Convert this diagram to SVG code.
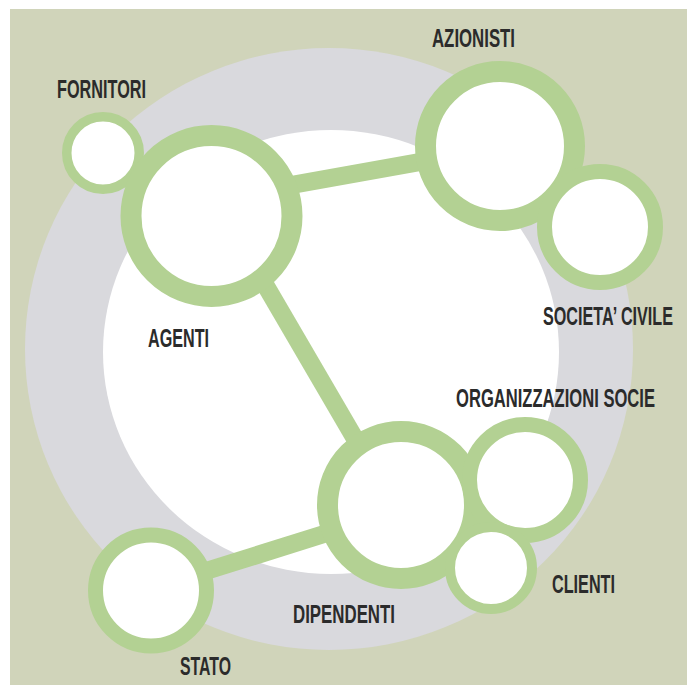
<svg xmlns="http://www.w3.org/2000/svg" width="687" height="685" viewBox="0 0 687 685">
<style>
.node{fill:#ffffff;stroke:#b3d193}
.link{stroke:#b3d193;stroke-width:18;fill:none}
.lbl{font-family:"Liberation Sans",Arial,sans-serif;font-weight:bold;font-size:25px;fill:#2b2b2b}
</style>
<rect x="0" y="0" width="687" height="685" fill="#ffffff"/>
<rect x="10" y="9" width="677" height="676" fill="#d0d4ba"/>
<ellipse cx="329" cy="349" rx="304" ry="301" fill="#d9d9dd"/>
<ellipse cx="331" cy="352" rx="228" ry="222" fill="#ffffff"/>
<g id="connectors">
<line class="link" x1="260" y1="190.6" x2="450" y2="156.6"/>
<line class="link" x1="256" y1="269" x2="361" y2="449"/>
<line class="link" x1="190" y1="576" x2="340" y2="529"/>
</g>
<g id="fornitori"><circle class="node" cx="103" cy="153" r="36.25" stroke-width="9.5"/><text class="lbl" x="57" y="98" textLength="89" lengthAdjust="spacingAndGlyphs">FORNITORI</text></g>
<g id="agenti"><circle class="node" cx="211.5" cy="216" r="80.5" stroke-width="21"/><text class="lbl" x="148" y="347" textLength="61" lengthAdjust="spacingAndGlyphs">AGENTI</text></g>
<g id="azionisti"><circle class="node" cx="500" cy="146" r="74.5" stroke-width="21"/><text class="lbl" x="432" y="47" textLength="83" lengthAdjust="spacingAndGlyphs">AZIONISTI</text></g>
<g id="societa-civile"><circle class="node" cx="600" cy="227" r="55.5" stroke-width="15"/><text class="lbl" x="543" y="325" textLength="130" lengthAdjust="spacingAndGlyphs">SOCIETA’ CIVILE</text></g>
<g id="dipendenti"><circle class="node" cx="401" cy="505" r="73.5" stroke-width="21"/><text class="lbl" x="293" y="623" textLength="102" lengthAdjust="spacingAndGlyphs">DIPENDENTI</text></g>
<g id="organizzazioni-socie"><circle class="node" cx="525" cy="480" r="55.5" stroke-width="15"/><text class="lbl" x="456" y="407" textLength="199" lengthAdjust="spacingAndGlyphs">ORGANIZZAZIONI SOCIE</text></g>
<g id="clienti"><circle class="node" cx="491" cy="568" r="41" stroke-width="10"/><text class="lbl" x="552" y="593" textLength="63" lengthAdjust="spacingAndGlyphs">CLIENTI</text></g>
<g id="stato"><circle class="node" cx="151" cy="590.5" r="55.5" stroke-width="15"/><text class="lbl" x="180" y="675" textLength="51" lengthAdjust="spacingAndGlyphs">STATO</text></g>
</svg>
